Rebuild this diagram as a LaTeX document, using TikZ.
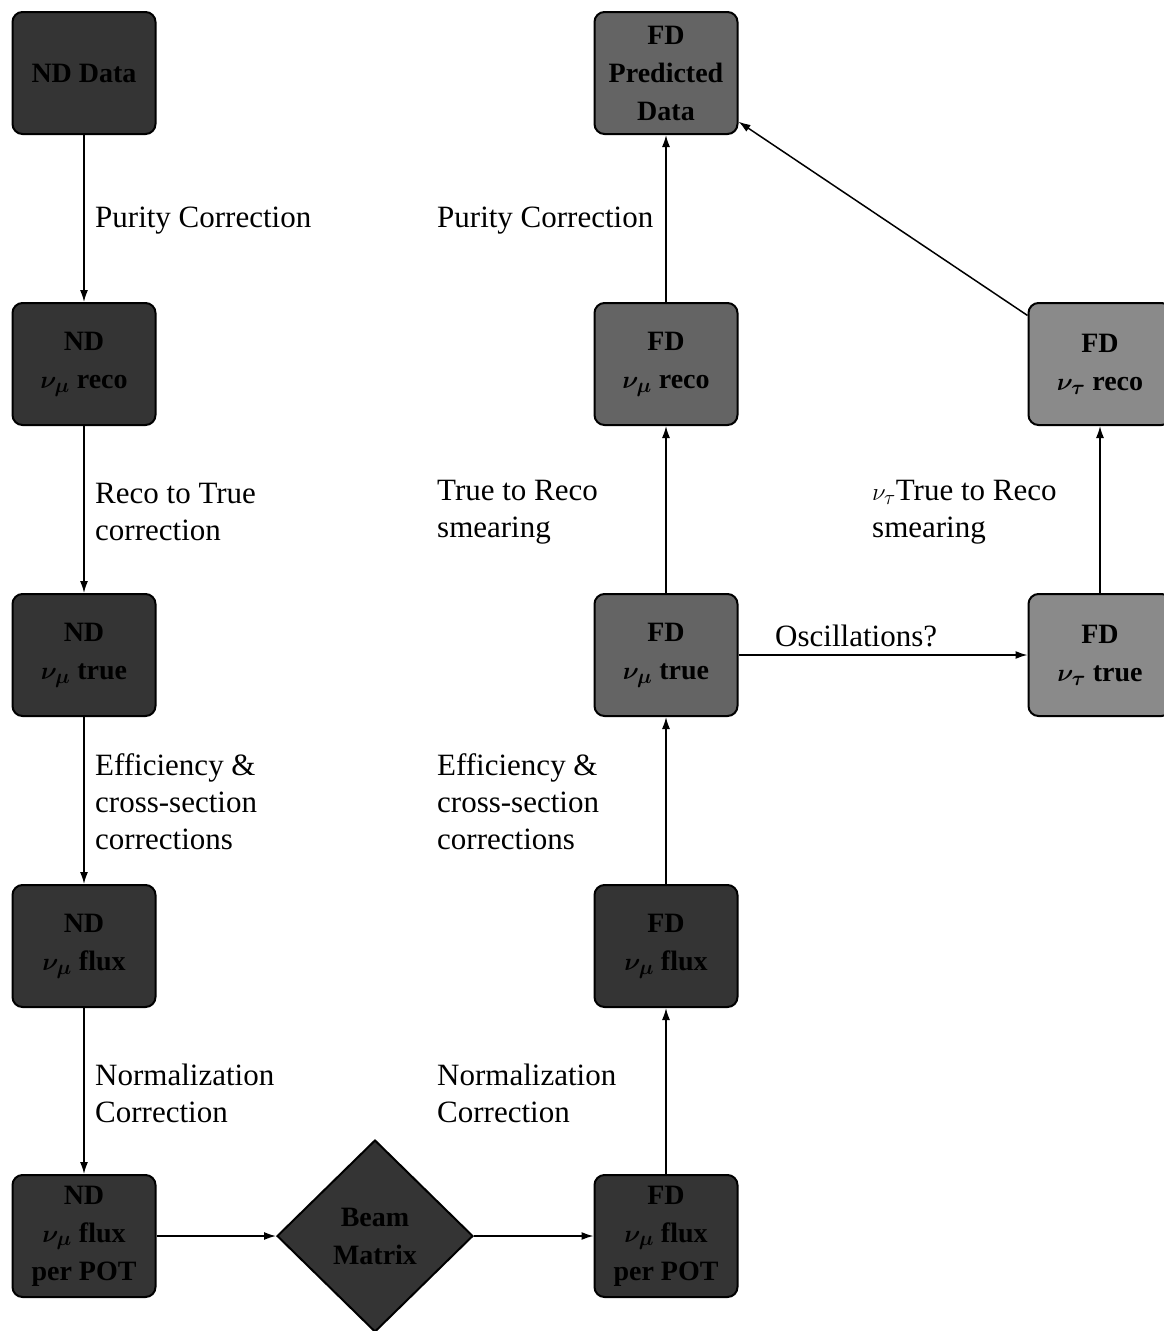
\documentclass[tikz,border=0pt]{standalone}
\usepackage{amsmath}
\usepackage{fontspec}
\setmainfont{Liberation Serif}
\usetikzlibrary{shapes.geometric,arrows.meta}
\definecolor{darkfill}{HTML}{343434}
\definecolor{midfill}{HTML}{646464}
\definecolor{lightfill}{HTML}{8A8A8A}
\newcommand{\bnu}[1]{$\boldsymbol{\nu_{#1}}$}
\tikzset{
  boxbase/.style={draw=black, line width=2pt, rounded corners=10pt,
    minimum width=143pt, minimum height=122pt, align=center,
    font=\bfseries\fontsize{28}{38}\selectfont, text=black},
  darkbox/.style={boxbase, fill=darkfill},
  midbox/.style={boxbase, fill=midfill},
  lightbox/.style={boxbase, fill=lightfill},
  beamdia/.style={diamond, draw=black, line width=2pt, fill=darkfill,
    minimum width=196pt, minimum height=192pt, inner sep=0pt, align=center,
    font=\bfseries\fontsize{28}{38}\selectfont, text=black},
  lab/.style={anchor=west, align=left, font=\fontsize{31}{37}\selectfont, inner sep=0pt},
  conn/.style={line width=1.5pt, -{Latex[length=12pt,width=8pt]}}
}
\begin{document}
\begin{tikzpicture}[x=1pt,y=-1pt]
\clip (0,0) rectangle (1164,1331);
% left column
\node[darkbox] (nd1) at (84,73) {ND Data};
\node[darkbox] (nd2) at (84,364) {ND\\\bnu{\mu} reco};
\node[darkbox] (nd3) at (84,655) {ND\\\bnu{\mu} true};
\node[darkbox] (nd4) at (84,946) {ND\\\bnu{\mu} flux};
\node[darkbox] (nd5) at (84,1236) {ND\\\bnu{\mu} flux\\per POT};
% diamond
\node[beamdia] (bm) at (375,1236) {Beam\\Matrix};
% middle column
\node[darkbox] (fd5) at (666,1236) {FD\\\bnu{\mu} flux\\per POT};
\node[darkbox] (fd4) at (666,946) {FD\\\bnu{\mu} flux};
\node[midbox] (fd3) at (666,655) {FD\\\bnu{\mu} true};
\node[midbox] (fd2) at (666,364) {FD\\\bnu{\mu} reco};
\node[midbox] (fd1) at (666,73) {FD\\Predicted\\Data};
% right column
\node[lightbox] (tt) at (1100,655) {FD\\\bnu{\tau} true};
\node[lightbox] (tr) at (1100,364) {FD\\\bnu{\tau} reco};
% connectors
\draw[conn] (nd1) -- (nd2);
\draw[conn] (nd2) -- (nd3);
\draw[conn] (nd3) -- (nd4);
\draw[conn] (nd4) -- (nd5);
\draw[conn] (nd5) -- (bm);
\draw[conn] (bm) -- (fd5);
\draw[conn] (fd5) -- (fd4);
\draw[conn] (fd4) -- (fd3);
\draw[conn] (fd3) -- (fd2);
\draw[conn] (fd2) -- (fd1);
\draw[conn] (fd3) -- (tt);
\draw[conn] (tt) -- (tr);
\draw[conn] (tr) -- (fd1);
% labels
\node[lab] (l1) at (95,221) {Purity Correction};
\node[lab] (l2) at (95,512) {Reco to True\\correction};
\node[lab] (l3) at (95,802) {Efficiency \&\\cross-section\\corrections};
\node[lab] (l4) at (95,1093) {Normalization\\Correction};
\node[lab] (m1) at (437,221) {Purity Correction};
\node[lab] (m2) at (437,512) {True to Reco\\smearing};
\node[lab] (m3) at (437,802) {Efficiency \&\\cross-section\\corrections};
\node[lab] (m4) at (437,1093) {Normalization\\Correction};
\node[lab] (r1) at (872,512) {$\nu_\tau$True to Reco\\smearing};
\node[lab] (r2) at (775,636) {Oscillations?};
\end{tikzpicture}
\end{document}
